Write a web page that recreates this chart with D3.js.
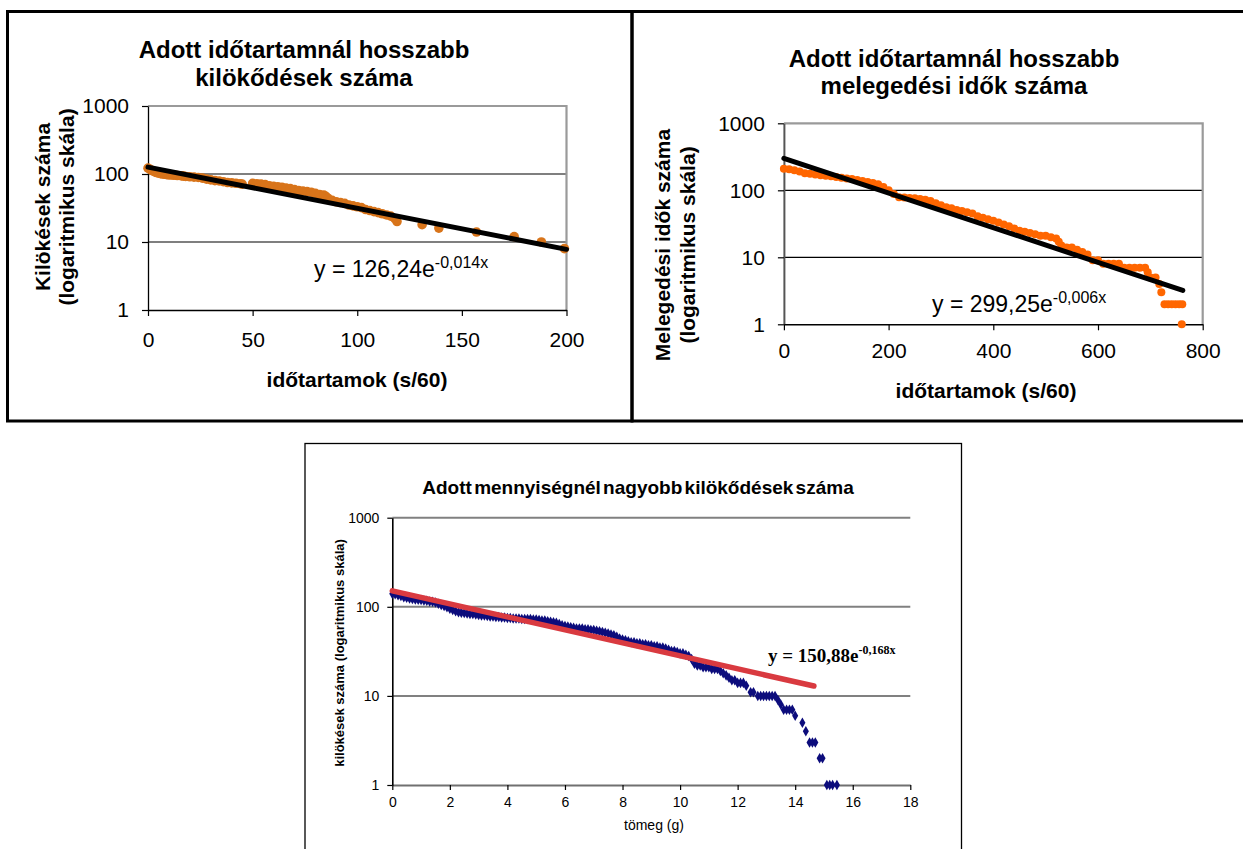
<!DOCTYPE html>
<html><head><meta charset="utf-8">
<script src="https://cdn.jsdelivr.net/npm/d3@7"></script>
<style>body{margin:0;background:#fff}svg{display:block}</style>
</head><body>
<svg id="c" width="1243" height="849"></svg>
<script>
// ---------- DATA ----------
const logTicks = [1, 10, 100, 1000];

// Chart 1: kilökődések (időtartam)
const klTitle = ["Adott időtartamnál hosszabb", "kilökődések száma"];
const klXTicks = [0, 50, 100, 150, 200];
const klPoints = [[0,122],[1,117],[2,112],[3,108],[4,105],[5,103],[6,101],[7,100],[8,99],[9,98],[10,97],[11,97],[12,96],[13,96],[14,95],[16,94],[17,93],[18,92],[20,91],[22,90],[24,89],[26,87],[28,84],[30,82],[32,80],[34,79],[36,77],[38,75],[40,74],[42,73],[44,72],[45,71],[50,73],[52,72],[54,71],[56,70],[58,67],[60,66],[62,65],[64,64],[66,62],[68,61],[70,59],[72,57],[74,56],[76,55],[78,54],[80,52],[82,50],[84,49],[85,47],[86,44],[88,41],[90,39],[92,38],[94,37],[96,35],[98,34],[100,33],[102,32],[104,30],[106,29],[108,28],[110,27],[112,26],[114,25],[116,24],[118,22],[119,20],[131,18],[139,16],[157,14],[175,12],[188,10],[199,8]];
const klTrend = [[0,126.24],[200,7.8]];

// Chart 2: melegedési idők
const mgTitle = ["Adott időtartamnál hosszabb", "melegedési idők száma"];
const mgXTicks = [0, 200, 400, 600, 800];
const mgX = [0,10,20,30,40,50,60,70,80,90,100,110,120,130,140,150,160,170,180,190,200,210,220,230,240,250,260,270,280,290,300,310,320,330,340,350,360,370,380,390,400,410,420,430,440,450,460,470,480,490,500,510,520,525,530,540,550,560,570,580,590,600,610,620,630,640,650,660,670,680,690,695,700,710,717,721,727,734,741,748,755,761,760];
const mgY = [210,206,200,190,180,176,172,168,165,162,158,154,150,147,142,138,133,128,123,112,100,88,79,78,77,76,74,72,69,64,60,56,54,51,49,47,45,41,39,37,35,33,31,29,27,25,24,23,22,21,21,20,19,17,15,14,14,13,12,11,9,9,8,8,8,8,7,7,7,7,7,6,5,5,4,3,2,2,2,2,2,2,1];
const mgTrend = [[0,299.25],[762,3.2]];

// Chart 3: tömeg
const tmTitle = "Adott mennyiségnél nagyobb kilökődések száma";
const tmXTicks = [0,2,4,6,8,10,12,14,16,18];
const tmPoints = [[0,140],[0.1,138],[0.2,135],[0.3,132],[0.4,128],[0.5,126],[0.6,124],[0.7,122],[0.8,121],[0.9,120],[1.0,119],[1.1,118],[1.2,117],[1.3,115],[1.4,114],[1.5,112],[1.6,108],[1.7,105],[1.8,102],[1.9,99],[2.0,95],[2.1,92],[2.2,89],[2.3,87],[2.4,86],[2.5,85],[2.6,84],[2.7,83],[2.8,83],[2.9,82],[3.0,81],[3.1,80],[3.2,80],[3.3,79],[3.4,78],[3.5,78],[3.6,77],[3.7,77],[3.8,76],[3.9,76],[4.0,75],[4.1,75],[4.2,74],[4.3,74],[4.4,74],[4.5,73],[4.6,73],[4.7,73],[4.8,73],[4.9,72],[5.0,72],[5.1,71],[5.2,70],[5.3,70],[5.4,69],[5.5,68],[5.6,67],[5.7,66],[5.8,64],[5.9,62],[6.0,61],[6.1,60],[6.2,59],[6.3,58],[6.4,57],[6.5,57],[6.6,57],[6.7,56],[6.8,56],[6.9,55],[7.0,55],[7.1,54],[7.2,53],[7.3,52],[7.4,51],[7.5,50],[7.6,49],[7.7,48],[7.8,46],[7.9,44],[8.0,43],[8.1,42],[8.2,41],[8.3,40],[8.4,40],[8.5,39],[8.6,39],[8.7,38],[8.8,38],[8.9,37],[9.0,37],[9.1,36],[9.2,36],[9.3,35],[9.4,35],[9.5,34],[9.6,33],[9.7,32],[9.8,32],[9.9,31],[10.0,30],[10.1,30],[10.2,29],[10.3,28],[10.4,26],[10.5,23],[10.6,22],[10.7,22],[10.8,21],[10.9,21],[11.0,21],[11.1,20],[11.2,20],[11.3,20],[11.4,19],[11.5,18],[11.6,17],[11.7,16],[11.8,15],[11.9,15],[12.0,14],[12.1,14],[12.2,14],[12.3,13],[12.45,11],[12.55,11],[12.7,10],[12.8,10],[12.9,10],[13.0,10],[13.1,10],[13.2,10],[13.3,10],[13.4,9],[13.5,8],[13.6,7],[13.7,7],[13.8,7],[13.9,7],[14.0,6],[14.25,5],[14.37,4],[14.5,3],[14.6,3],[14.7,3],[14.85,2],[14.95,2],[15.1,1],[15.2,1],[15.3,1],[15.45,1]];
const tmTrend = [[0,150.88],[14.65,12.9]];

// ---------- DRAW ----------
const SANS = "'Liberation Sans', Arial, Helvetica, sans-serif";
const NARROW = "'Liberation Sans Narrow', 'Arial Narrow', 'Liberation Sans', Arial, sans-serif";
const SERIF = "'Liberation Serif', 'Times New Roman', serif";
const svg = d3.select("#c");
svg.append("rect").attr("width",1243).attr("height",849).attr("fill","#fff");

// panel frames
svg.append("rect").attr("x",7.5).attr("y",11.5).attr("width",624.5).attr("height",409.5)
  .attr("fill","none").attr("stroke","#000").attr("stroke-width",3);
svg.append("rect").attr("x",632).attr("y",11.5).attr("width",700).attr("height",409.5)
  .attr("fill","none").attr("stroke","#000").attr("stroke-width",3);
svg.append("rect").attr("x",305).attr("y",443.5).attr("width",656.5).attr("height",500)
  .attr("fill","none").attr("stroke","#000").attr("stroke-width",1.3);

function topChart(c) {
  const g = svg.append("g");
  const x = d3.scaleLinear().domain(c.xDomain).range([c.left, c.right]);
  const y = d3.scaleLog().domain([1, 1000]).range([c.bottom, c.top]);

  g.selectAll("line.grid").data(logTicks.filter(v => v > 1 && v < 1000)).join("line")
    .attr("x1", c.left).attr("x2", c.right)
    .attr("y1", d => y(d)).attr("y2", d => y(d))
    .attr("stroke", "#000").attr("stroke-width", 1.2);
  g.append("path").attr("d", `M${c.left},${c.top}H${c.right}V${c.bottom}`)
    .attr("fill", "none").attr("stroke", "#9a9a9a").attr("stroke-width", 2.2);

  const ya = g.append("g").attr("transform", `translate(${c.left},0)`)
    .call(d3.axisLeft(y).tickValues(logTicks).tickFormat(d3.format("d"))
      .tickSizeInner(6).tickSizeOuter(0).tickPadding(13));
  ya.select(".domain").attr("stroke", c.axisColor).attr("stroke-width", c.axisWidth);
  ya.selectAll(".tick line").attr("stroke", "#000").attr("stroke-width", 1.2);
  ya.selectAll("text").attr("font-family", SANS).attr("font-size", 21).attr("fill", "#000");

  const xa = g.append("g").attr("transform", `translate(0,${c.bottom})`)
    .call(d3.axisBottom(x).tickValues(c.xTicks).tickFormat(d3.format("d"))
      .tickSizeInner(6).tickSizeOuter(0).tickPadding(c.xPad));
  xa.select(".domain").attr("stroke", "#000").attr("stroke-width", 1.5);
  xa.selectAll(".tick line").attr("stroke", "#000").attr("stroke-width", 1.2);
  xa.selectAll("text").attr("font-family", SANS).attr("font-size", 21).attr("fill", "#000");

  const pts = c.points;
  g.selectAll("circle.pt").data(pts).join("circle")
    .attr("cx", d => x(d[0])).attr("cy", d => y(d[1])).attr("r", c.r)
    .attr("fill", c.color);
  g.append("path").datum(c.trend)
    .attr("d", d3.line().x(d => x(d[0])).y(d => y(d[1])))
    .attr("fill", "none").attr("stroke", "#000").attr("stroke-width", 5).attr("stroke-linecap", "round");

  c.title.forEach((t, i) => {
    g.append("text").attr("x", c.titleX).attr("y", c.titleY[i]).attr("text-anchor", "middle")
      .attr("font-family", SANS).attr("font-weight", "bold").attr("font-size", 24).text(t);
  });
  g.append("text").attr("x", c.xTitleX).attr("y", c.xTitleY).attr("text-anchor", "middle")
    .attr("font-family", SANS).attr("font-weight", "bold").attr("font-size", 21).text("időtartamok (s/60)");
  c.yTitle.forEach((t, i) => {
    g.append("text").attr("transform", `translate(${c.yTitleX[i]},${c.yTitleCY}) rotate(-90)`)
      .attr("text-anchor", "middle").attr("font-family", SANS).attr("font-weight", "bold")
      .attr("font-size", 21).text(t);
  });
  const eq = g.append("text").attr("x", c.eqX).attr("y", c.eqY)
    .attr("font-family", SANS).attr("font-size", 23);
  eq.append("tspan").text(c.eq[0]);
  eq.append("tspan").attr("dy", -9).attr("font-size", 16).text(c.eq[1]);
}

topChart({
  xDomain: [0, 200], left: 148, right: 566.5, top: 106, bottom: 310,
  xTicks: klXTicks, xPad: 16, axisColor: "#000", axisWidth: 1.3,
  points: klPoints, trend: klTrend, color: "#d8741a", r: 4.8,
  title: klTitle, titleX: 304, titleY: [58, 86],
  xTitleX: 357, xTitleY: 387,
  yTitle: ["Kilökések száma", "(logaritmikus skála)"], yTitleX: [50, 74], yTitleCY: 207,
  eq: ["y = 126,24e", "-0,014x"], eqX: 314, eqY: 277
});

topChart({
  xDomain: [0, 800], left: 783.9, right: 1202.7, top: 123.3, bottom: 324.3,
  xTicks: mgXTicks, xPad: 13, axisColor: "#555", axisWidth: 2,
  points: mgX.map((v, i) => [v, mgY[i]]), trend: mgTrend, color: "#ff6600", r: 4,
  title: mgTitle, titleX: 954, titleY: [67, 94],
  xTitleX: 986, xTitleY: 398,
  yTitle: ["Melegedési idők száma", "(logaritmikus skála)"], yTitleX: [670, 695], yTitleCY: 245,
  eq: ["y = 299,25e", "-0,006x"], eqX: 932, eqY: 312
});

// ---------- bottom chart ----------
(function () {
  const L = 392.3, R = 910.3, T = 517.7, B = 785;
  const g = svg.append("g");
  const x = d3.scaleLinear().domain([0, 18]).range([L, R]);
  const y = d3.scaleLog().domain([1, 1000]).range([B, T]);

  g.selectAll("line.grid").data(logTicks.filter(v => v > 1)).join("line")
    .attr("x1", L).attr("x2", R).attr("y1", d => y(d)).attr("y2", d => y(d))
    .attr("stroke", "#808080").attr("stroke-width", 2);

  const xa = g.append("g").attr("transform", `translate(0,${B})`)
    .call(d3.axisBottom(x).tickValues(tmXTicks).tickSizeInner(5).tickSizeOuter(0).tickPadding(7));
  xa.select(".domain").attr("stroke", "#707070").attr("stroke-width", 2);
  xa.selectAll(".tick line").attr("stroke", "#000").attr("stroke-width", 1.2);
  xa.selectAll("text").attr("font-family", NARROW).attr("font-size", 14).attr("fill", "#000");

  const ya = g.append("g").attr("transform", `translate(${L},0)`)
    .call(d3.axisLeft(y).tickValues(logTicks).tickFormat(d3.format("d")).tickSizeInner(5).tickSizeOuter(0).tickPadding(8));
  ya.select(".domain").attr("stroke", "#000").attr("stroke-width", 1.6);
  ya.selectAll(".tick line").attr("stroke", "#000").attr("stroke-width", 1.2);
  ya.selectAll("text").attr("font-family", NARROW).attr("font-size", 14).attr("fill", "#000");

  g.selectAll("path.pt").data(tmPoints).join("path")
    .attr("d", d3.symbol().type(d3.symbolDiamond).size(32))
    .attr("transform", d => `translate(${x(d[0])},${y(d[1])})`)
    .attr("fill", "#0c0c7c");
  g.append("path").datum(tmTrend)
    .attr("d", d3.line().x(d => x(d[0])).y(d => y(d[1])))
    .attr("fill", "none").attr("stroke", "#d93a40").attr("stroke-width", 5.5).attr("stroke-linecap", "round");

  g.append("text").attr("x", 638).attr("y", 494).attr("text-anchor", "middle")
    .attr("font-family", SANS).attr("font-weight", "bold").attr("font-size", 19)
    .attr("word-spacing", -3).text(tmTitle);
  g.append("text").attr("x", 654).attr("y", 830).attr("text-anchor", "middle")
    .attr("font-family", SANS).attr("font-size", 14).text("tömeg (g)");
  g.append("text").attr("transform", `translate(344,653) rotate(-90)`).attr("text-anchor", "middle")
    .attr("font-family", SANS).attr("font-weight", "bold").attr("font-size", 13)
    .text("kilökések száma (logaritmikus skála)");
  const eq = g.append("text").attr("x", 768).attr("y", 662)
    .attr("font-family", SERIF).attr("font-weight", "bold").attr("font-size", 19);
  eq.append("tspan").text("y = 150,88e");
  eq.append("tspan").attr("dy", -8).attr("font-size", 12).text("-0,168x");
})();
</script>
</body></html>
